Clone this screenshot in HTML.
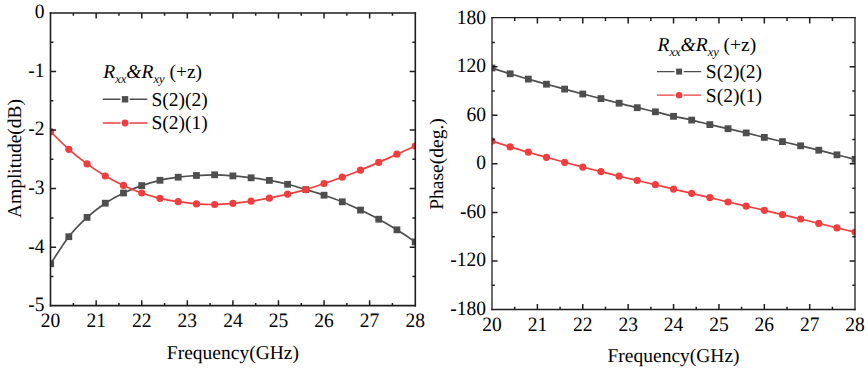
<!DOCTYPE html>
<html><head><meta charset="utf-8"><style>
html,body{margin:0;padding:0;background:#fff;}
svg{display:block;}
text{font-family:'Liberation Serif', serif;font-size:19.5px;fill:#000;text-rendering:geometricPrecision;}
</style></head><body>
<svg width="868" height="370" viewBox="0 0 868 370">
<defs>
<clipPath id="cl"><rect x="50.6" y="13.0" width="364.59999999999997" height="292.7"/></clipPath>
<clipPath id="cr"><rect x="492.0" y="18.1" width="363.1" height="291.5"/></clipPath>
</defs>
<rect width="868" height="370" fill="#fff"/>
<g clip-path="url(#cl)">
<path d="M50.60,263.80 C53.64,259.28 62.75,244.43 68.83,236.70 C74.91,228.97 80.98,222.98 87.06,217.40 C93.14,211.82 99.21,207.27 105.29,203.20 C111.37,199.13 117.44,195.93 123.52,193.00 C129.60,190.07 135.67,187.72 141.75,185.60 C147.83,183.48 153.90,181.70 159.98,180.30 C166.06,178.90 172.13,178.00 178.21,177.20 C184.29,176.40 190.36,175.90 196.44,175.50 C202.52,175.10 208.59,174.73 214.67,174.80 C220.75,174.87 226.82,175.40 232.90,175.90 C238.98,176.40 245.05,177.05 251.13,177.80 C257.21,178.55 263.28,179.32 269.36,180.40 C275.44,181.48 281.51,182.77 287.59,184.30 C293.67,185.83 299.74,187.78 305.82,189.60 C311.90,191.42 317.97,193.17 324.05,195.20 C330.13,197.23 336.20,199.32 342.28,201.80 C348.36,204.28 354.43,207.20 360.51,210.10 C366.59,213.00 372.66,215.92 378.74,219.20 C384.82,222.48 390.89,226.02 396.97,229.80 C403.05,233.58 412.16,239.88 415.20,241.90" stroke="#4E4E4E" stroke-width="1.7" fill="none"/>
<rect x="47.20" y="260.40" width="6.8" height="6.8" fill="#4E4E4E"/>
<rect x="65.43" y="233.30" width="6.8" height="6.8" fill="#4E4E4E"/>
<rect x="83.66" y="214.00" width="6.8" height="6.8" fill="#4E4E4E"/>
<rect x="101.89" y="199.80" width="6.8" height="6.8" fill="#4E4E4E"/>
<rect x="120.12" y="189.60" width="6.8" height="6.8" fill="#4E4E4E"/>
<rect x="138.35" y="182.20" width="6.8" height="6.8" fill="#4E4E4E"/>
<rect x="156.58" y="176.90" width="6.8" height="6.8" fill="#4E4E4E"/>
<rect x="174.81" y="173.80" width="6.8" height="6.8" fill="#4E4E4E"/>
<rect x="193.04" y="172.10" width="6.8" height="6.8" fill="#4E4E4E"/>
<rect x="211.27" y="171.40" width="6.8" height="6.8" fill="#4E4E4E"/>
<rect x="229.50" y="172.50" width="6.8" height="6.8" fill="#4E4E4E"/>
<rect x="247.73" y="174.40" width="6.8" height="6.8" fill="#4E4E4E"/>
<rect x="265.96" y="177.00" width="6.8" height="6.8" fill="#4E4E4E"/>
<rect x="284.19" y="180.90" width="6.8" height="6.8" fill="#4E4E4E"/>
<rect x="302.42" y="186.20" width="6.8" height="6.8" fill="#4E4E4E"/>
<rect x="320.65" y="191.80" width="6.8" height="6.8" fill="#4E4E4E"/>
<rect x="338.88" y="198.40" width="6.8" height="6.8" fill="#4E4E4E"/>
<rect x="357.11" y="206.70" width="6.8" height="6.8" fill="#4E4E4E"/>
<rect x="375.34" y="215.80" width="6.8" height="6.8" fill="#4E4E4E"/>
<rect x="393.57" y="226.40" width="6.8" height="6.8" fill="#4E4E4E"/>
<rect x="411.80" y="238.50" width="6.8" height="6.8" fill="#4E4E4E"/>
</g>
<g clip-path="url(#cl)">
<path d="M50.60,131.70 C53.64,134.63 62.75,143.93 68.83,149.30 C74.91,154.67 80.98,159.45 87.06,163.90 C93.14,168.35 99.21,172.42 105.29,176.00 C111.37,179.58 117.44,182.57 123.52,185.40 C129.60,188.23 135.67,190.85 141.75,193.00 C147.83,195.15 153.90,196.85 159.98,198.30 C166.06,199.75 172.13,200.77 178.21,201.70 C184.29,202.63 190.36,203.43 196.44,203.90 C202.52,204.37 208.59,204.60 214.67,204.50 C220.75,204.40 226.82,203.85 232.90,203.30 C238.98,202.75 245.05,202.05 251.13,201.20 C257.21,200.35 263.28,199.37 269.36,198.20 C275.44,197.03 281.51,195.63 287.59,194.20 C293.67,192.77 299.74,191.38 305.82,189.60 C311.90,187.82 317.97,185.57 324.05,183.50 C330.13,181.43 336.20,179.42 342.28,177.20 C348.36,174.98 354.43,172.67 360.51,170.20 C366.59,167.73 372.66,165.07 378.74,162.40 C384.82,159.73 390.89,156.93 396.97,154.20 C403.05,151.47 412.16,147.37 415.20,146.00" stroke="#F03E3E" stroke-width="1.7" fill="none"/>
<circle cx="50.60" cy="131.70" r="3.6" fill="#F03E3E"/>
<circle cx="68.83" cy="149.30" r="3.6" fill="#F03E3E"/>
<circle cx="87.06" cy="163.90" r="3.6" fill="#F03E3E"/>
<circle cx="105.29" cy="176.00" r="3.6" fill="#F03E3E"/>
<circle cx="123.52" cy="185.40" r="3.6" fill="#F03E3E"/>
<circle cx="141.75" cy="193.00" r="3.6" fill="#F03E3E"/>
<circle cx="159.98" cy="198.30" r="3.6" fill="#F03E3E"/>
<circle cx="178.21" cy="201.70" r="3.6" fill="#F03E3E"/>
<circle cx="196.44" cy="203.90" r="3.6" fill="#F03E3E"/>
<circle cx="214.67" cy="204.50" r="3.6" fill="#F03E3E"/>
<circle cx="232.90" cy="203.30" r="3.6" fill="#F03E3E"/>
<circle cx="251.13" cy="201.20" r="3.6" fill="#F03E3E"/>
<circle cx="269.36" cy="198.20" r="3.6" fill="#F03E3E"/>
<circle cx="287.59" cy="194.20" r="3.6" fill="#F03E3E"/>
<circle cx="305.82" cy="189.60" r="3.6" fill="#F03E3E"/>
<circle cx="324.05" cy="183.50" r="3.6" fill="#F03E3E"/>
<circle cx="342.28" cy="177.20" r="3.6" fill="#F03E3E"/>
<circle cx="360.51" cy="170.20" r="3.6" fill="#F03E3E"/>
<circle cx="378.74" cy="162.40" r="3.6" fill="#F03E3E"/>
<circle cx="396.97" cy="154.20" r="3.6" fill="#F03E3E"/>
<circle cx="415.20" cy="146.00" r="3.6" fill="#F03E3E"/>
</g>
<g clip-path="url(#cr)">
<path d="M492.00,68.00 C495.03,68.97 504.10,71.95 510.15,73.80 C516.21,75.65 522.26,77.37 528.31,79.10 C534.36,80.83 540.41,82.53 546.47,84.20 C552.52,85.87 558.57,87.47 564.62,89.10 C570.67,90.73 576.72,92.42 582.77,94.00 C588.83,95.58 594.88,97.07 600.93,98.60 C606.98,100.13 613.03,101.68 619.09,103.20 C625.14,104.72 631.19,106.27 637.24,107.70 C643.29,109.13 649.34,110.37 655.39,111.80 C661.45,113.23 667.50,114.92 673.55,116.30 C679.60,117.68 685.65,118.72 691.71,120.10 C697.76,121.48 703.81,123.17 709.86,124.60 C715.91,126.03 721.96,127.32 728.01,128.70 C734.07,130.08 740.12,131.45 746.17,132.90 C752.22,134.35 758.27,135.95 764.33,137.40 C770.38,138.85 776.43,140.20 782.48,141.60 C788.53,143.00 794.58,144.37 800.63,145.80 C806.69,147.23 812.74,148.70 818.79,150.20 C824.84,151.70 830.89,153.28 836.95,154.80 C843.00,156.32 852.07,158.55 855.10,159.30" stroke="#4E4E4E" stroke-width="1.7" fill="none"/>
<rect x="488.60" y="64.60" width="6.8" height="6.8" fill="#4E4E4E"/>
<rect x="506.75" y="70.40" width="6.8" height="6.8" fill="#4E4E4E"/>
<rect x="524.91" y="75.70" width="6.8" height="6.8" fill="#4E4E4E"/>
<rect x="543.07" y="80.80" width="6.8" height="6.8" fill="#4E4E4E"/>
<rect x="561.22" y="85.70" width="6.8" height="6.8" fill="#4E4E4E"/>
<rect x="579.38" y="90.60" width="6.8" height="6.8" fill="#4E4E4E"/>
<rect x="597.53" y="95.20" width="6.8" height="6.8" fill="#4E4E4E"/>
<rect x="615.69" y="99.80" width="6.8" height="6.8" fill="#4E4E4E"/>
<rect x="633.84" y="104.30" width="6.8" height="6.8" fill="#4E4E4E"/>
<rect x="652.00" y="108.40" width="6.8" height="6.8" fill="#4E4E4E"/>
<rect x="670.15" y="112.90" width="6.8" height="6.8" fill="#4E4E4E"/>
<rect x="688.31" y="116.70" width="6.8" height="6.8" fill="#4E4E4E"/>
<rect x="706.46" y="121.20" width="6.8" height="6.8" fill="#4E4E4E"/>
<rect x="724.62" y="125.30" width="6.8" height="6.8" fill="#4E4E4E"/>
<rect x="742.77" y="129.50" width="6.8" height="6.8" fill="#4E4E4E"/>
<rect x="760.93" y="134.00" width="6.8" height="6.8" fill="#4E4E4E"/>
<rect x="779.08" y="138.20" width="6.8" height="6.8" fill="#4E4E4E"/>
<rect x="797.24" y="142.40" width="6.8" height="6.8" fill="#4E4E4E"/>
<rect x="815.39" y="146.80" width="6.8" height="6.8" fill="#4E4E4E"/>
<rect x="833.55" y="151.40" width="6.8" height="6.8" fill="#4E4E4E"/>
<rect x="851.70" y="155.90" width="6.8" height="6.8" fill="#4E4E4E"/>
</g>
<g clip-path="url(#cr)">
<path d="M492.00,141.10 C495.03,142.07 504.10,145.05 510.15,146.90 C516.21,148.75 522.26,150.47 528.31,152.20 C534.36,153.93 540.41,155.62 546.47,157.30 C552.52,158.98 558.57,160.67 564.62,162.30 C570.67,163.93 576.72,165.55 582.77,167.10 C588.83,168.65 594.88,170.08 600.93,171.60 C606.98,173.12 613.03,174.72 619.09,176.20 C625.14,177.68 631.19,179.08 637.24,180.50 C643.29,181.92 649.34,183.27 655.39,184.70 C661.45,186.13 667.50,187.67 673.55,189.10 C679.60,190.53 685.65,191.88 691.71,193.30 C697.76,194.72 703.81,196.15 709.86,197.60 C715.91,199.05 721.96,200.57 728.01,202.00 C734.07,203.43 740.12,204.82 746.17,206.20 C752.22,207.58 758.27,208.88 764.33,210.30 C770.38,211.72 776.43,213.25 782.48,214.70 C788.53,216.15 794.58,217.55 800.63,219.00 C806.69,220.45 812.74,221.92 818.79,223.40 C824.84,224.88 830.89,226.45 836.95,227.90 C843.00,229.35 852.07,231.40 855.10,232.10" stroke="#F03E3E" stroke-width="1.7" fill="none"/>
<circle cx="492.00" cy="141.10" r="3.6" fill="#F03E3E"/>
<circle cx="510.15" cy="146.90" r="3.6" fill="#F03E3E"/>
<circle cx="528.31" cy="152.20" r="3.6" fill="#F03E3E"/>
<circle cx="546.47" cy="157.30" r="3.6" fill="#F03E3E"/>
<circle cx="564.62" cy="162.30" r="3.6" fill="#F03E3E"/>
<circle cx="582.77" cy="167.10" r="3.6" fill="#F03E3E"/>
<circle cx="600.93" cy="171.60" r="3.6" fill="#F03E3E"/>
<circle cx="619.09" cy="176.20" r="3.6" fill="#F03E3E"/>
<circle cx="637.24" cy="180.50" r="3.6" fill="#F03E3E"/>
<circle cx="655.39" cy="184.70" r="3.6" fill="#F03E3E"/>
<circle cx="673.55" cy="189.10" r="3.6" fill="#F03E3E"/>
<circle cx="691.71" cy="193.30" r="3.6" fill="#F03E3E"/>
<circle cx="709.86" cy="197.60" r="3.6" fill="#F03E3E"/>
<circle cx="728.01" cy="202.00" r="3.6" fill="#F03E3E"/>
<circle cx="746.17" cy="206.20" r="3.6" fill="#F03E3E"/>
<circle cx="764.33" cy="210.30" r="3.6" fill="#F03E3E"/>
<circle cx="782.48" cy="214.70" r="3.6" fill="#F03E3E"/>
<circle cx="800.63" cy="219.00" r="3.6" fill="#F03E3E"/>
<circle cx="818.79" cy="223.40" r="3.6" fill="#F03E3E"/>
<circle cx="836.95" cy="227.90" r="3.6" fill="#F03E3E"/>
<circle cx="855.10" cy="232.10" r="3.6" fill="#F03E3E"/>
</g>
<path d="M50.5,12.15V306.45" stroke="#1e1e1e" stroke-width="1.6"/>
<path d="M415.3,12.15V306.45" stroke="#1e1e1e" stroke-width="1.6"/>
<path d="M49.70,12.9H416.10" stroke="#1e1e1e" stroke-width="1.5"/>
<path d="M49.70,305.65H416.10" stroke="#1e1e1e" stroke-width="1.6"/>
<path d="M73.39,305.70v-2.8M73.39,13.00v2.8M96.17,305.70v-5.5M96.17,13.00v5.5M118.96,305.70v-2.8M118.96,13.00v2.8M141.75,305.70v-5.5M141.75,13.00v5.5M164.54,305.70v-2.8M164.54,13.00v2.8M187.32,305.70v-5.5M187.32,13.00v5.5M210.11,305.70v-2.8M210.11,13.00v2.8M232.90,305.70v-5.5M232.90,13.00v5.5M255.69,305.70v-2.8M255.69,13.00v2.8M278.47,305.70v-5.5M278.47,13.00v5.5M301.26,305.70v-2.8M301.26,13.00v2.8M324.05,305.70v-5.5M324.05,13.00v5.5M346.84,305.70v-2.8M346.84,13.00v2.8M369.62,305.70v-5.5M369.62,13.00v5.5M392.41,305.70v-2.8M392.41,13.00v2.8M50.60,71.54h5.5M415.20,71.54h-5.5M50.60,130.08h5.5M415.20,130.08h-5.5M50.60,188.62h5.5M415.20,188.62h-5.5M50.60,247.16h5.5M415.20,247.16h-5.5M50.60,42.27h2.8M415.20,42.27h-2.8M50.60,100.81h2.8M415.20,100.81h-2.8M50.60,159.35h2.8M415.20,159.35h-2.8M50.60,217.89h2.8M415.20,217.89h-2.8M50.60,276.43h2.8M415.20,276.43h-2.8" stroke="#1e1e1e" stroke-width="1.5" fill="none"/>
<text transform="translate(44.60,18.40) scale(1,1.05)" text-anchor="end">0</text>
<text transform="translate(44.60,76.94) scale(1,1.05)" text-anchor="end">-1</text>
<text transform="translate(44.60,135.48) scale(1,1.05)" text-anchor="end">-2</text>
<text transform="translate(44.60,194.02) scale(1,1.05)" text-anchor="end">-3</text>
<text transform="translate(44.60,252.56) scale(1,1.05)" text-anchor="end">-4</text>
<text transform="translate(44.60,311.10) scale(1,1.05)" text-anchor="end">-5</text>
<text transform="translate(50.60,327.00) scale(1,1.05)" text-anchor="middle">20</text>
<text transform="translate(96.17,327.00) scale(1,1.05)" text-anchor="middle">21</text>
<text transform="translate(141.75,327.00) scale(1,1.05)" text-anchor="middle">22</text>
<text transform="translate(187.32,327.00) scale(1,1.05)" text-anchor="middle">23</text>
<text transform="translate(232.90,327.00) scale(1,1.05)" text-anchor="middle">24</text>
<text transform="translate(278.47,327.00) scale(1,1.05)" text-anchor="middle">25</text>
<text transform="translate(324.05,327.00) scale(1,1.05)" text-anchor="middle">26</text>
<text transform="translate(369.62,327.00) scale(1,1.05)" text-anchor="middle">27</text>
<text transform="translate(415.20,327.00) scale(1,1.05)" text-anchor="middle">28</text>
<path d="M492.0,16.93V310.30" stroke="#1e1e1e" stroke-width="1.3"/>
<path d="M855.0,16.93V310.30" stroke="#1e1e1e" stroke-width="1.3"/>
<path d="M491.35,17.55H855.65" stroke="#1e1e1e" stroke-width="1.25"/>
<path d="M491.35,309.5H855.65" stroke="#1e1e1e" stroke-width="1.6"/>
<path d="M514.69,309.60v-2.8M514.69,18.10v2.8M537.39,309.60v-5.5M537.39,18.10v5.5M560.08,309.60v-2.8M560.08,18.10v2.8M582.77,309.60v-5.5M582.77,18.10v5.5M605.47,309.60v-2.8M605.47,18.10v2.8M628.16,309.60v-5.5M628.16,18.10v5.5M650.86,309.60v-2.8M650.86,18.10v2.8M673.55,309.60v-5.5M673.55,18.10v5.5M696.24,309.60v-2.8M696.24,18.10v2.8M718.94,309.60v-5.5M718.94,18.10v5.5M741.63,309.60v-2.8M741.63,18.10v2.8M764.33,309.60v-5.5M764.33,18.10v5.5M787.02,309.60v-2.8M787.02,18.10v2.8M809.71,309.60v-5.5M809.71,18.10v5.5M832.41,309.60v-2.8M832.41,18.10v2.8M492.00,66.68h5.5M855.10,66.68h-5.5M492.00,115.27h5.5M855.10,115.27h-5.5M492.00,163.85h5.5M855.10,163.85h-5.5M492.00,212.43h5.5M855.10,212.43h-5.5M492.00,261.02h5.5M855.10,261.02h-5.5M492.00,42.39h2.8M855.10,42.39h-2.8M492.00,90.97h2.8M855.10,90.97h-2.8M492.00,139.56h2.8M855.10,139.56h-2.8M492.00,188.14h2.8M855.10,188.14h-2.8M492.00,236.72h2.8M855.10,236.72h-2.8M492.00,285.31h2.8M855.10,285.31h-2.8" stroke="#1e1e1e" stroke-width="1.5" fill="none"/>
<text transform="translate(486.00,23.50) scale(1,1.05)" text-anchor="end">180</text>
<text transform="translate(486.00,72.08) scale(1,1.05)" text-anchor="end">120</text>
<text transform="translate(486.00,120.67) scale(1,1.05)" text-anchor="end">60</text>
<text transform="translate(486.00,169.25) scale(1,1.05)" text-anchor="end">0</text>
<text transform="translate(486.00,217.83) scale(1,1.05)" text-anchor="end">-60</text>
<text transform="translate(486.00,266.42) scale(1,1.05)" text-anchor="end">-120</text>
<text transform="translate(486.00,315.00) scale(1,1.05)" text-anchor="end">-180</text>
<text transform="translate(492.00,331.30) scale(1,1.05)" text-anchor="middle">20</text>
<text transform="translate(537.39,331.30) scale(1,1.05)" text-anchor="middle">21</text>
<text transform="translate(582.77,331.30) scale(1,1.05)" text-anchor="middle">22</text>
<text transform="translate(628.16,331.30) scale(1,1.05)" text-anchor="middle">23</text>
<text transform="translate(673.55,331.30) scale(1,1.05)" text-anchor="middle">24</text>
<text transform="translate(718.94,331.30) scale(1,1.05)" text-anchor="middle">25</text>
<text transform="translate(764.33,331.30) scale(1,1.05)" text-anchor="middle">26</text>
<text transform="translate(809.71,331.30) scale(1,1.05)" text-anchor="middle">27</text>
<text transform="translate(855.10,331.30) scale(1,1.05)" text-anchor="middle">28</text>
<text x="232.90" y="358.6" text-anchor="middle">Frequency(GHz)</text>
<text x="673.55" y="362.3" text-anchor="middle">Frequency(GHz)</text>
<text transform="translate(20.7,158.5) rotate(-90)" text-anchor="middle">Amplitude(dB)</text>
<text transform="translate(442.8,164) rotate(-90)" text-anchor="middle">Phase(deg.)</text>
<text x="103.30" y="77.50"><tspan font-style="italic">R</tspan><tspan font-style="italic" font-size="12.5" dy="5">xx</tspan><tspan font-style="italic" dy="-5">&amp;R</tspan><tspan font-style="italic" font-size="12.5" dy="5">xy</tspan><tspan dy="-5"> (+z)</tspan></text>
<path d="M102.80,99.30H120.45M129.65,99.30H147.30" stroke="#4E4E4E" stroke-width="1.4"/>
<rect x="121.85" y="96.10" width="6.4" height="6.4" fill="#4E4E4E"/>
<path d="M102.80,123.00H120.45M129.65,123.00H147.30" stroke="#F03E3E" stroke-width="1.4"/>
<circle cx="125.05" cy="123.00" r="3.4" fill="#F03E3E"/>
<text x="151.50" y="105.70">S(2)(2)</text>
<text x="151.50" y="129.40">S(2)(1)</text>
<text x="657.50" y="50.50"><tspan font-style="italic">R</tspan><tspan font-style="italic" font-size="12.5" dy="5">xx</tspan><tspan font-style="italic" dy="-5">&amp;R</tspan><tspan font-style="italic" font-size="12.5" dy="5">xy</tspan><tspan dy="-5"> (+z)</tspan></text>
<path d="M657.00,71.60H674.50M683.70,71.60H701.20" stroke="#4E4E4E" stroke-width="1.25"/>
<rect x="676.10" y="68.60" width="6.0" height="6.0" fill="#4E4E4E"/>
<path d="M657.00,95.20H674.50M683.70,95.20H701.20" stroke="#F03E3E" stroke-width="1.25"/>
<circle cx="679.10" cy="95.20" r="3.3" fill="#F03E3E"/>
<text x="705.80" y="78.00">S(2)(2)</text>
<text x="705.80" y="101.60">S(2)(1)</text>
</svg></body></html>
